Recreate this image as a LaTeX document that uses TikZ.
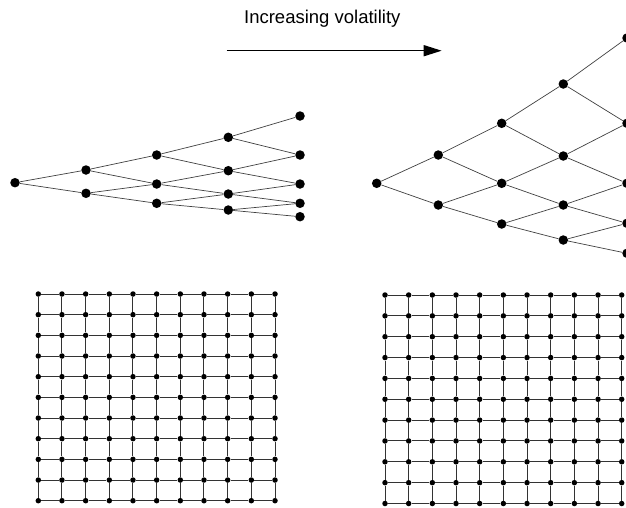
\documentclass[tikz,border=0pt]{standalone}
\usepackage{fontspec}
\setmainfont{Liberation Sans}
\usetikzlibrary{arrows.meta}

\begin{document}
\begin{tikzpicture}[x=1pt,y=-1pt,
  every node/.style={circle,fill=black,inner sep=0pt},
  treenode/.style={minimum size=9.5pt},
  gridnode/.style={minimum size=5.5pt},
  treeline/.style={draw=black!75,line width=0.7pt},
  gridline/.style={draw=black!80,line width=1pt}]
\useasboundingbox (0,0) rectangle (626,507);
% title and arrow
\node[fill=none,anchor=base,font=\fontsize{18.5}{20}\selectfont] (title) at (322.3,23.3) {Increasing volatility};
\coordinate (a0) at (226.7,50.7);
\coordinate (a1) at (441.7,50.7);
\draw[-{Triangle[length=18pt,width=11pt]},line width=1.4pt] (a0) -- (a1);
% low volatility tree
\node[treenode] (L00) at (15,182.7) {};
\node[treenode] (L10) at (86,170) {};
\node[treenode] (L11) at (86,193.3) {};
\node[treenode] (L20) at (156.7,155) {};
\node[treenode] (L21) at (156.7,184) {};
\node[treenode] (L22) at (156.7,203.3) {};
\node[treenode] (L30) at (228.3,137.3) {};
\node[treenode] (L31) at (228.3,170.7) {};
\node[treenode] (L32) at (228.3,194) {};
\node[treenode] (L33) at (228.3,210) {};
\node[treenode] (L40) at (300,116) {};
\node[treenode] (L41) at (300,155) {};
\node[treenode] (L42) at (300,184) {};
\node[treenode] (L43) at (300,203.3) {};
\node[treenode] (L44) at (300,216.7) {};
\draw[treeline] (L00)--(L10) (L00)--(L11);
\draw[treeline] (L10)--(L20) (L10)--(L21) (L11)--(L21) (L11)--(L22);
\draw[treeline] (L20)--(L30) (L20)--(L31) (L21)--(L31) (L21)--(L32) (L22)--(L32) (L22)--(L33);
\draw[treeline] (L30)--(L40) (L30)--(L41) (L31)--(L41) (L31)--(L42) (L32)--(L42) (L32)--(L43) (L33)--(L43) (L33)--(L44);
% high volatility tree
\node[treenode] (R00) at (376.7,183.3) {};
\node[treenode] (R10) at (438.3,155) {};
\node[treenode] (R11) at (438.3,205) {};
\node[treenode] (R20) at (501.7,123.3) {};
\node[treenode] (R21) at (501.7,183.3) {};
\node[treenode] (R22) at (501.7,224) {};
\node[treenode] (R30) at (563.3,84) {};
\node[treenode] (R31) at (563.3,156) {};
\node[treenode] (R32) at (563.3,205) {};
\node[treenode] (R33) at (563.3,240) {};
\node[treenode] (R40) at (627,38) {};
\node[treenode] (R41) at (627,123.3) {};
\node[treenode] (R42) at (627,183.3) {};
\node[treenode] (R43) at (627,223.3) {};
\node[treenode] (R44) at (627,253.3) {};
\draw[treeline] (R00)--(R10) (R00)--(R11);
\draw[treeline] (R10)--(R20) (R10)--(R21) (R11)--(R21) (R11)--(R22);
\draw[treeline] (R20)--(R30) (R20)--(R31) (R21)--(R31) (R21)--(R32) (R22)--(R32) (R22)--(R33);
\draw[treeline] (R30)--(R40) (R30)--(R41) (R31)--(R41) (R31)--(R42) (R32)--(R42) (R32)--(R43) (R33)--(R43) (R33)--(R44);
% grids
\foreach \i in {0,...,10}
  \foreach \j in {0,...,10} {
    \node[gridnode] (P-\i-\j) at ({38.3+23.67*\i},{294+20.67*\j}) {};
    \node[gridnode] (Q-\i-\j) at ({385+23.67*\i},{295+20.85*\j}) {};
  }
\foreach \i in {0,...,10}
  \foreach \j [count=\k] in {0,...,9} {
    \draw[gridline] (P-\i-\j)--(P-\i-\k) (P-\j-\i)--(P-\k-\i);
    \draw[gridline] (Q-\i-\j)--(Q-\i-\k) (Q-\j-\i)--(Q-\k-\i);
  }
\end{tikzpicture}
\end{document}
